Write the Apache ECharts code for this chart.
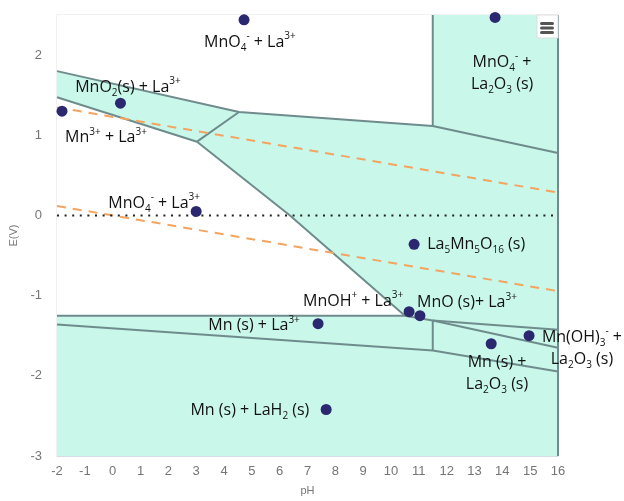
<!DOCTYPE html>
<html>
<head>
<meta charset="utf-8">
<script src="https://cdn.jsdelivr.net/npm/echarts@6/dist/echarts.min.js"></script>
<style>
  html, body { margin: 0; padding: 0; background: #ffffff; }
  #chart { width: 624px; height: 501px; }
</style>
</head>
<body>
<div id="chart"></div>
<script>
// Pourbaix diagram of the Mn–La–O–H system (E vs pH)

// Axis ranges
const phRange = [-2, 16];
const eRange = [-3, 2.5];

// Phase boundaries, each as a polyline of [pH, E] vertices
const boundaryMnO4Top   = [[-2, 1.80], [4.54, 1.29], [11.5, 1.115], [16, 0.78]];
const boundaryLa2O3Top  = [[11.5, 2.5], [11.5, 1.115]];
const boundaryMnO2Lower = [[-2, 1.475], [3.03, 0.92]];
const boundaryMnO2Right = [[3.03, 0.92], [4.54, 1.29]];
const boundaryDiagonal  = [[3.03, 0.92], [6.37, 0.0], [10.5, -1.25]];
const boundaryMnUpper   = [[-2, -1.25], [10.5, -1.25], [11.5, -1.31], [16, -1.65]];
const boundaryMnOH3     = [[11.5, -1.31], [16, -1.425]];
const boundaryVertLow   = [[11.5, -1.31], [11.5, -1.685]];
const boundaryMnLower   = [[-2, -1.36], [11.5, -1.685], [16, -1.945]];
const boundaryRightEdge = [[16, -3], [16, 2.5]];

const boundaries = [
  boundaryMnO4Top, boundaryLa2O3Top, boundaryMnO2Lower, boundaryMnO2Right,
  boundaryDiagonal, boundaryMnUpper, boundaryMnOH3, boundaryVertLow,
  boundaryMnLower, boundaryRightEdge
];

// Regions where only aqueous Mn species coexist with La3+ (left unshaded)
const aqueousTop = [[-2, 2.5], [11.5, 2.5], [11.5, 1.115], [4.54, 1.29], [-2, 1.80]];
const aqueousMid = [[-2, 1.475], [3.03, 0.92], [6.37, 0.0], [10.5, -1.25], [-2, -1.25]];
// Whole domain (solid-phase shading underneath)
const fullDomain = [[-2, -3], [16, -3], [16, 2.5], [-2, 2.5]];

// Water stability lines: O2/H2O and H2O/H2
const waterO2 = [[-2, 1.348], [16, 0.286]];
const waterH2 = [[-2, 0.118], [16, -0.944]];
const zeroLine = [[-2, 0], [16, 0]];

// Calculated compositions
const pointPH = [4.72, 13.74, 0.28, -1.82, 3.0, 10.83, 7.38, 10.65, 11.04, 13.6, 14.96, 7.67];
const pointE  = [2.44, 2.47, 1.40, 1.30, 0.05, -0.36, -1.35, -1.20, -1.25, -1.60, -1.50, -2.42];

// Region names and their anchor (centre) in [pH, E]
const regionNames = [
  'MnO{sub|4}{sup|-} + La{sup|3+}',
  'MnO{sub|4}{sup|-} +\nLa{sub|2}O{sub|3} (s)',
  'MnO{sub|2}(s) + La{sup|3+}',
  'Mn{sup|3+} + La{sup|3+}',
  'MnO{sub|4}{sup|-} + La{sup|3+}',
  'La{sub|5}Mn{sub|5}O{sub|16} (s)',
  'MnOH{sup|+} + La{sup|3+}',
  'MnO (s)+ La{sup|3+}',
  'Mn (s) + La{sup|3+}',
  'Mn (s) +\nLa{sub|2}O{sub|3} (s)',
  'Mn(OH){sub|3}{sup|-} +\nLa{sub|2}O{sub|3} (s)',
  'Mn (s) + LaH{sub|2} (s)'
];
const regionAnchorPH = [4.93, 13.99, 0.55, -0.24, 1.49, 13.06, 8.64, 12.73, 5.08, 13.81, 16.86, 4.93];
const regionAnchorE  = [2.16, 1.77, 1.60, 0.97, 0.15, -0.36, -1.07, -1.09, -1.375, -1.97, -1.66, -2.43];

const SHADE = '#c9f7ea';
const EDGE = '#6f8c8c';
const WATER = '#f3a460';
const DOT = '#2b2870';
const INK = '#111111';

function polygonSeries(vertices, color, z) {
  return {
    type: 'custom',
    coordinateSystem: 'cartesian2d',
    silent: true,
    z: z,
    data: [0],
    renderItem: function (params, api) {
      return {
        type: 'polygon',
        shape: { points: vertices.map(v => api.coord(v)) },
        style: { fill: color, stroke: 'none' }
      };
    }
  };
}

function lineSeries(points, style, z) {
  return {
    type: 'line',
    data: points,
    symbol: 'none',
    silent: true,
    z: z,
    lineStyle: style,
    animation: false
  };
}

const series = [];
series.push(polygonSeries(fullDomain, SHADE, 1));
series.push(polygonSeries(aqueousTop, '#ffffff', 2));
series.push(polygonSeries(aqueousMid, '#ffffff', 2));
boundaries.forEach(b => series.push(lineSeries(b, { color: EDGE, width: 2 }, 3)));
series.push(lineSeries(waterO2, { color: WATER, width: 2, type: [9, 7] }, 4));
series.push(lineSeries(waterH2, { color: WATER, width: 2, type: [9, 7] }, 4));
series.push(lineSeries(zeroLine, { color: '#222222', width: 2, type: [2, 5.6] }, 4));

series.push({
  type: 'scatter',
  z: 6,
  symbolSize: 11,
  itemStyle: { color: DOT, opacity: 1 },
  data: pointPH.map((x, i) => [x, pointE[i]]),
  animation: false
});

series.push({
  type: 'scatter',
  z: 7,
  symbolSize: 0,
  silent: true,
  clip: false,
  itemStyle: { opacity: 1 },
  data: regionNames.map((t, i) => ({ value: [regionAnchorPH[i], regionAnchorE[i]], name: t })),
  label: {
    show: true,
    position: 'inside',
    align: 'center',
    verticalAlign: 'middle',
    formatter: p => p.name,
    color: INK,
    opacity: 1,
    fontFamily: 'Open Sans',
    fontSize: 16,
    lineHeight: 22,
    rich: {
      sup: { fontSize: 10, verticalAlign: 'top', lineHeight: 17, color: INK, fontFamily: 'Open Sans' },
      sub: { fontSize: 10, verticalAlign: 'bottom', lineHeight: 14, color: INK, fontFamily: 'Open Sans' }
    }
  },
  animation: false
});

const chart = echarts.init(document.getElementById('chart'), null, { renderer: 'canvas' });
chart.setOption({
  animation: false,
  backgroundColor: '#ffffff',
  grid: {
    left: 57, right: 66, top: 15, bottom: 42,
    show: true, borderColor: '#e2e2e2', borderWidth: 1, backgroundColor: 'transparent'
  },
  xAxis: {
    type: 'value',
    min: phRange[0], max: phRange[1], interval: 1,
    name: 'pH',
    nameLocation: 'middle',
    nameGap: 29,
    nameTextStyle: { color: '#777777', fontSize: 11, fontFamily: 'Liberation Sans' },
    axisLine: { show: true, onZero: false, lineStyle: { color: '#d6dbe6' } },
    axisTick: { show: false },
    splitLine: { show: false },
    axisLabel: { color: '#757575', fontSize: 13, margin: 9, fontFamily: 'Liberation Sans' }
  },
  yAxis: {
    type: 'value',
    min: eRange[0], max: eRange[1], interval: 1,
    name: 'E(V)',
    nameLocation: 'middle',
    nameGap: 36,
    nameTextStyle: { color: '#777777', fontSize: 11, fontFamily: 'Liberation Sans' },
    axisLine: { show: true, onZero: false, lineStyle: { color: '#ccd6eb' } },
    axisTick: { show: false },
    splitLine: { show: false },
    axisLabel: { color: '#757575', fontSize: 13, margin: 15, showMaxLabel: false, fontFamily: 'Liberation Sans' }
  },
  graphic: [
    { type: 'rect', x: 537, y: 15, z: 100, silent: true,
      shape: { x: 0, y: 0, width: 21, height: 23 },
      style: { fill: '#ffffff', stroke: '#dddddd', lineWidth: 1 } },
    { type: 'rect', x: 540, y: 22, z: 101, silent: true,
      shape: { x: 0, y: 0, width: 14, height: 3, r: 1.5 }, style: { fill: '#555555' } },
    { type: 'rect', x: 540, y: 26.5, z: 101, silent: true,
      shape: { x: 0, y: 0, width: 14, height: 3, r: 1.5 }, style: { fill: '#555555' } },
    { type: 'rect', x: 540, y: 31, z: 101, silent: true,
      shape: { x: 0, y: 0, width: 14, height: 3, r: 1.5 }, style: { fill: '#555555' } }
  ],
  series: series
});
</script>
</body>
</html>
